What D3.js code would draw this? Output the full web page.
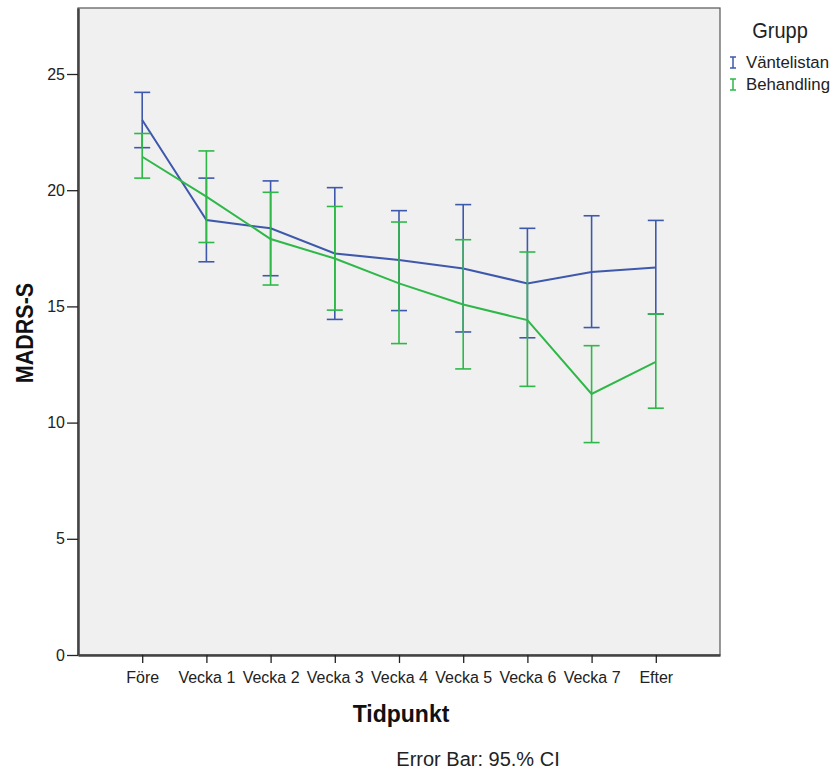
<!DOCTYPE html>
<html>
<head>
<meta charset="utf-8">
<script src="https://cdn.jsdelivr.net/npm/d3@7"></script>
<style>
  body { margin: 0; background: #fff; }
  text { font-family: "Liberation Sans", Arial, sans-serif; }
</style>
</head>
<body>
<div id="chart"></div>
<script>
// data
const timepoints = ['Före', 'Vecka 1', 'Vecka 2', 'Vecka 3', 'Vecka 4', 'Vecka 5', 'Vecka 6', 'Vecka 7', 'Efter'];
const groups = ['Väntelistan', 'Behandling'];
const colors = ['#3e58ac', '#2eb848'];

const ventMean  = [23.02, 18.72, 18.36, 17.28, 17.00, 16.63, 15.99, 16.48, 16.67];
const ventLower = [21.83, 16.92, 16.32, 14.44, 14.82, 13.90, 13.65, 14.09, 14.67];
const ventUpper = [24.21, 20.52, 20.40, 20.11, 19.12, 19.38, 18.36, 18.90, 18.70];

const behMean  = [21.44, 19.72, 17.90, 17.06, 15.99, 15.08, 14.41, 11.23, 12.61];
const behLower = [20.52, 17.75, 15.92, 14.84, 13.40, 12.31, 11.56, 9.14, 10.62];
const behUpper = [22.44, 21.69, 19.91, 19.30, 18.63, 17.87, 17.34, 13.31, 14.67];

const yTicks = [0, 5, 10, 15, 20, 25];

const W = 833, H = 771;
const plot = {left: 78, right: 720, top: 8, bottom: 655};

const svg = d3.select('#chart').append('svg')
  .attr('width', W)
  .attr('height', H);

const x = d3.scalePoint().domain(timepoints).range([plot.left, plot.right]).padding(1);
const y = d3.scaleLinear().domain([0, 27.84]).range([plot.bottom, plot.top]);

// plot background
svg.append('rect')
  .attr('x', plot.left).attr('y', plot.top)
  .attr('width', plot.right - plot.left).attr('height', plot.bottom - plot.top)
  .attr('fill', '#f0f0f0')
  .attr('stroke', '#555').attr('stroke-width', 1.2);

// y axis
const yAxis = svg.append('g')
  .attr('transform', `translate(${plot.left},0)`)
  .call(d3.axisLeft(y).tickValues(yTicks).tickSize(11).tickPadding(2).tickSizeOuter(0));
yAxis.select('.domain').attr('stroke', '#444').attr('stroke-width', 2.5);
yAxis.selectAll('.tick line').attr('stroke', '#222').attr('stroke-width', 1.3);
yAxis.selectAll('.tick text').attr('font-size', 16).attr('fill', '#222');

// x axis
const xAxis = svg.append('g')
  .attr('transform', `translate(0,${plot.bottom})`)
  .call(d3.axisBottom(x).tickSize(8).tickPadding(9).tickSizeOuter(0));
xAxis.select('.domain').attr('stroke', '#444').attr('stroke-width', 2.5);
xAxis.selectAll('.tick line').attr('stroke', '#222').attr('stroke-width', 1.3);
xAxis.selectAll('.tick text').attr('font-size', 16).attr('fill', '#222');

// series
const series = [
  {name: groups[0], color: colors[0], mean: ventMean, lower: ventLower, upper: ventUpper},
  {name: groups[1], color: colors[1], mean: behMean, lower: behLower, upper: behUpper}
];

const line = d3.line()
  .x((d, i) => x(timepoints[i]))
  .y(d => y(d));

const capW = 8;
series.forEach(s => {
  const g = svg.append('g').attr('stroke', s.color).attr('fill', 'none').attr('stroke-width', 1.6);
  timepoints.forEach((t, i) => {
    const cx = x(t);
    g.append('line').attr('x1', cx).attr('x2', cx).attr('y1', y(s.lower[i])).attr('y2', y(s.upper[i]));
    g.append('line').attr('x1', cx - capW).attr('x2', cx + capW).attr('y1', y(s.lower[i])).attr('y2', y(s.lower[i]));
    g.append('line').attr('x1', cx - capW).attr('x2', cx + capW).attr('y1', y(s.upper[i])).attr('y2', y(s.upper[i]));
  });
  g.append('path').datum(s.mean).attr('d', line).attr('stroke-width', 2);
});

// axis titles (slightly tall glyphs as in the original)
svg.append('text')
  .attr('transform', 'translate(33,333) rotate(-90) scale(1,1.15)')
  .attr('text-anchor', 'middle')
  .attr('font-size', 21.5).attr('font-weight', 'bold').attr('fill', '#111')
  .text('MADRS-S');

svg.append('text')
  .attr('transform', 'translate(401,722)')
  .attr('text-anchor', 'middle')
  .attr('font-size', 23).attr('font-weight', 'bold').attr('fill', '#111')
  .text('Tidpunkt');

svg.append('text')
  .attr('transform', 'translate(478,766)')
  .attr('text-anchor', 'middle')
  .attr('font-size', 20).attr('fill', '#222')
  .text('Error Bar: 95.% CI');

// legend
svg.append('text')
  .attr('transform', 'translate(780,38) scale(1,1.1)')
  .attr('text-anchor', 'middle')
  .attr('font-size', 20).attr('fill', '#222')
  .text('Grupp');

const leg = svg.selectAll('.leg').data(series).enter()
  .append('g').attr('class', 'leg')
  .attr('transform', (d, i) => `translate(733,${63 + i * 22})`);
leg.append('line').attr('x1', 0).attr('x2', 0).attr('y1', -6).attr('y2', 5)
  .attr('stroke', d => d.color).attr('stroke-width', 1.5);
leg.append('line').attr('x1', -3).attr('x2', 3).attr('y1', -6).attr('y2', -6)
  .attr('stroke', d => d.color).attr('stroke-width', 1.5);
leg.append('line').attr('x1', -3).attr('x2', 3).attr('y1', 5).attr('y2', 5)
  .attr('stroke', d => d.color).attr('stroke-width', 1.5);
leg.append('text').attr('x', 13).attr('y', 5)
  .attr('font-size', 16.8).attr('fill', '#222')
  .text(d => d.name);
</script>
</body>
</html>
